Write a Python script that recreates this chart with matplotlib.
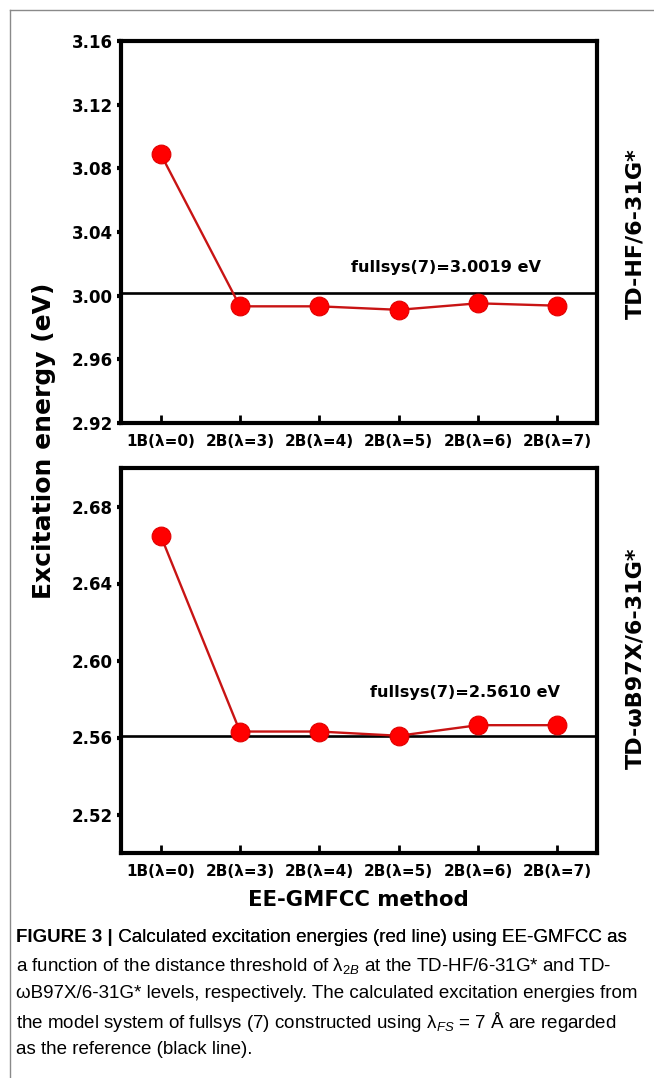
import numpy as np
import matplotlib
matplotlib.use('Agg')
import matplotlib.pyplot as plt
from matplotlib.lines import Line2D

# данные с рисунка
categories = ['1B(λ=0)', '2B(λ=3)', '2B(λ=4)', '2B(λ=5)', '2B(λ=6)', '2B(λ=7)']
hf_energy = [3.089, 2.9933, 2.9933, 2.9911, 2.9952, 2.9937]
wb_energy = [2.6649, 2.5631, 2.5631, 2.5609, 2.5664, 2.5664]
hf_ref = 3.0019
wb_ref = 2.5610
hf_ticks = [2.92, 2.96, 3.00, 3.04, 3.08, 3.12, 3.16]
wb_ticks = [2.52, 2.56, 2.60, 2.64, 2.68]

plt.rcParams['font.family'] = ['DejaVu Sans']
plt.rcParams['mathtext.fontset'] = 'custom'
plt.rcParams['mathtext.rm'] = 'Liberation Sans'
plt.rcParams['mathtext.it'] = 'Liberation Sans:italic'

fig = plt.figure(figsize=(6.54, 10.78), dpi=100)
W, H = 654.0, 1078.0

def px_axes(x0, y0, x1, y1):
    return fig.add_axes([x0 / W, 1 - y1 / H, (x1 - x0) / W, (y1 - y0) / H])

ax1 = px_axes(121, 41, 597, 423)
ax2 = px_axes(121, 468, 597, 853)

x = np.arange(len(categories))

def panel(ax, vals, ref, ticks, ylim, note, note_xy):
    ax.axhline(ref, color='black', linewidth=1.9, zorder=2)
    ax.plot(x, vals, '-', color='#c81414', linewidth=1.7, zorder=3)
    ax.plot(x, vals, 'o', color='#ff0000', markersize=13.5, markeredgecolor='#e00000',
            markeredgewidth=0.8, zorder=4)
    ax.set_xlim(-0.5, 5.5)
    ax.set_ylim(*ylim)
    ax.set_yticks(ticks)
    ax.set_yticklabels(['%.2f' % t for t in ticks], fontsize=12, fontweight='bold')
    ax.set_xticks(x)
    ax.set_xticklabels(categories, fontsize=11, fontweight='bold')
    ax.tick_params(axis='y', direction='out', length=3, width=3, pad=3)
    ax.tick_params(axis='x', direction='in', length=6, width=2, pad=8)
    for s in ax.spines.values():
        s.set_linewidth(3)
    ax.text(note_xy[0], note_xy[1], note, fontsize=11.6, fontweight='bold', va='center', ha='left')

panel(ax1, hf_energy, hf_ref, hf_ticks, (2.92, 3.16), 'fullsys(7)=3.0019 eV', (2.40, 3.018))
panel(ax2, wb_energy, wb_ref, wb_ticks, (2.50, 2.70), 'fullsys(7)=2.5610 eV', (2.64, 2.5836))

# подписи
fig.text(44 / W, 1 - 441 / H, 'Excitation energy (eV)', rotation=90, fontsize=18,
         fontweight='bold', ha='center', va='center')
fig.text(358 / W, 1 - 900 / H, 'EE-GMFCC method', fontsize=15.3, fontweight='bold',
         ha='center', va='center')
fig.text(635 / W, 1 - 234 / H, 'TD-HF/6-31G*', rotation=90, fontsize=16,
         fontweight='bold', ha='center', va='center')
fig.text(635 / W, 1 - 658 / H, 'TD-ωB97X/6-31G*', rotation=90, fontsize=16,
         fontweight='bold', ha='center', va='center')

# рамка
fig.add_artist(Line2D([10 / W, 10 / W], [0, 1 - 10 / H], transform=fig.transFigure,
                      color='#8a8a8a', linewidth=1))
fig.add_artist(Line2D([10 / W, 1], [1 - 10 / H, 1 - 10 / H], transform=fig.transFigure,
                      color='#8a8a8a', linewidth=1))

# подпись к рисунку
cap_font = ['Liberation Sans Narrow', 'Liberation Sans']
t0 = fig.text(16 / W, 1 - 938 / H, 'FIGURE 3 |', fontsize=13.5, fontweight='bold',
              family=cap_font, va='center', ha='left')
fig.add_artist(plt.annotate(' Calculated excitation energies (red line) using EE-GMFCC as',
                            xy=(1, 0.5), xycoords=t0, va='center', ha='left',
                            fontsize=13.5, family=cap_font))
lines = [r'a function of the distance threshold of λ$_{\mathit{2B}}$ at the TD-HF/6-31G* and TD-',
         'ωB97X/6-31G* levels, respectively. The calculated excitation energies from',
         r'the model system of fullsys (7) constructed using λ$_{\mathit{FS}}$ = 7 Å are regarded',
         'as the reference (black line).']
for i, ln in enumerate(lines):
    fig.text(16 / W, 1 - (966 + 28 * i) / H, ln, fontsize=13.5, family=cap_font,
             va='center', ha='left')

plt.savefig('out.png', dpi=100)
